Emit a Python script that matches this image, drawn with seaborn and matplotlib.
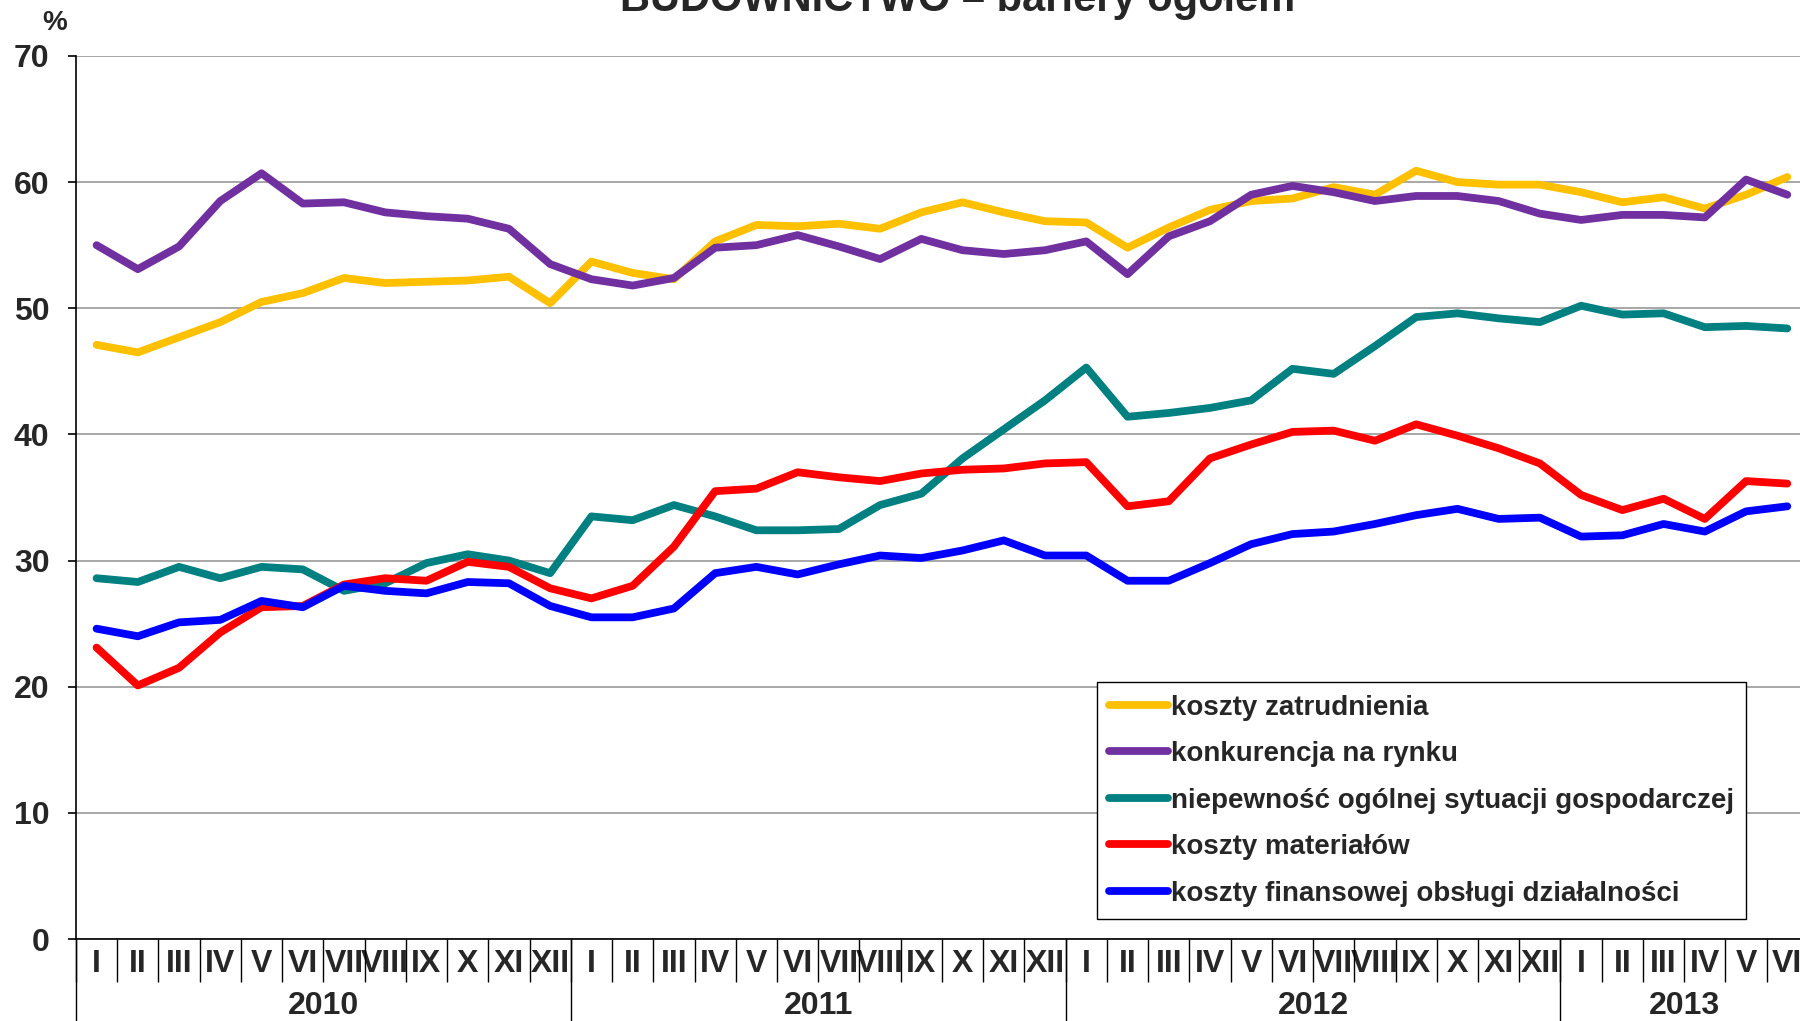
import pandas as pd
import matplotlib.pyplot as plt
import seaborn as sns
from matplotlib import font_manager

# Dane: odsetek wskazań barier (budownictwo), I.2010 - VI.2013
lata = ['2010', '2011', '2012', '2013']
miesiace_w_roku = [12, 12, 12, 6]
miesiace = ['I', 'II', 'III', 'IV', 'V', 'VI', 'VII', 'VIII', 'IX', 'X', 'XI', 'XII']
etykiety_x = [m for n in miesiace_w_roku for m in miesiace[:n]]

koszty_zatrudnienia = [47.1, 46.5, 47.7, 48.9, 50.5, 51.2, 52.4, 52.0, 52.1, 52.2, 52.5, 50.4,
                       53.7, 52.8, 52.3, 55.3, 56.6, 56.5, 56.7, 56.3, 57.6, 58.4, 57.6, 56.9,
                       56.8, 54.8, 56.4, 57.8, 58.5, 58.7, 59.6, 59.0, 60.9, 60.0, 59.8, 59.8,
                       59.2, 58.4, 58.8, 57.9, 59.0, 60.4]
konkurencja = [55.0, 53.1, 54.9, 58.5, 60.7, 58.3, 58.4, 57.6, 57.3, 57.1, 56.3, 53.5,
               52.3, 51.8, 52.4, 54.8, 55.0, 55.8, 54.9, 53.9, 55.5, 54.6, 54.3, 54.6,
               55.3, 52.7, 55.7, 56.9, 59.0, 59.7, 59.2, 58.5, 58.9, 58.9, 58.5, 57.5,
               57.0, 57.4, 57.4, 57.2, 60.2, 59.0]
niepewnosc = [28.6, 28.3, 29.5, 28.6, 29.5, 29.3, 27.6, 28.2, 29.8, 30.5, 30.0, 29.0,
              33.5, 33.2, 34.4, 33.5, 32.4, 32.4, 32.5, 34.4, 35.3, 38.1, 40.4, 42.7,
              45.3, 41.4, 41.7, 42.1, 42.7, 45.2, 44.8, 47.0, 49.3, 49.6, 49.2, 48.9,
              50.2, 49.5, 49.6, 48.5, 48.6, 48.4]
koszty_materialow = [23.1, 20.1, 21.5, 24.3, 26.3, 26.4, 28.1, 28.6, 28.4, 29.9, 29.5, 27.8,
                     27.0, 28.0, 31.1, 35.5, 35.7, 37.0, 36.6, 36.3, 36.9, 37.2, 37.3, 37.7,
                     37.8, 34.3, 34.7, 38.1, 39.2, 40.2, 40.3, 39.5, 40.8, 39.9, 38.9, 37.7,
                     35.2, 34.0, 34.9, 33.3, 36.3, 36.1]
koszty_finansowe = [24.6, 24.0, 25.1, 25.3, 26.8, 26.3, 28.0, 27.6, 27.4, 28.3, 28.2, 26.4,
                    25.5, 25.5, 26.2, 29.0, 29.5, 28.9, 29.7, 30.4, 30.2, 30.8, 31.6, 30.4,
                    30.4, 28.4, 28.4, 29.8, 31.3, 32.1, 32.3, 32.9, 33.6, 34.1, 33.3, 33.4,
                    31.9, 32.0, 32.9, 32.3, 33.9, 34.3]

serie = ['koszty zatrudnienia', 'konkurencja na rynku',
         'niepewność ogólnej sytuacji gospodarczej', 'koszty materiałów',
         'koszty finansowej obsługi działalności']
wartosci = [koszty_zatrudnienia, konkurencja, niepewnosc, koszty_materialow, koszty_finansowe]
kolory = ['#FFC000', '#7030A0', '#008080', '#FF0000', '#0000FF']

# Tabela w formacie długim dla seaborn
df = pd.concat([pd.DataFrame({'okres': range(len(v)), 'wartosc': v, 'bariera': s})
                for s, v in zip(serie, wartosci)], ignore_index=True)

sns.set_style('white')
dostepne = {f.name for f in font_manager.fontManager.ttflist}
czcionka = 'Liberation Sans Narrow' if 'Liberation Sans Narrow' in dostepne else 'Liberation Sans'
plt.rcParams['font.family'] = [czcionka, 'DejaVu Sans']
plt.rcParams['font.weight'] = 'bold'

fig = plt.figure(figsize=(18, 10.21), dpi=100)
ax = fig.add_axes([0.0422, 0.0803, 0.9622, 0.8649])

sns.lineplot(data=df, x='okres', y='wartosc', hue='bariera', hue_order=serie,
             palette=kolory, linewidth=5.6, ax=ax)
for linia in ax.lines:
    linia.set_solid_capstyle('round')
    linia.set_solid_joinstyle('round')

n = len(etykiety_x)
ax.set_xlim(-0.5, n - 0.5)
ax.set_ylim(0, 70)
ax.set_yticks(range(0, 71, 10))
ax.set_xticks(range(n))
ax.set_xticklabels(etykiety_x)
ax.set_xlabel('')
ax.set_ylabel('')
ax.tick_params(axis='x', length=0, pad=7, labelsize=23)
ax.tick_params(axis='y', left=True, length=6, width=1.2, color='black', pad=13, labelsize=23)
ax.grid(axis='y', color='#A0A0A0', linewidth=1.3)
for s in ['top', 'right']:
    ax.spines[s].set_visible(False)
for s in ['left', 'bottom']:
    ax.spines[s].set_color('black')
    ax.spines[s].set_linewidth(1.2)

# separatory miesięcy i lat pod osią
tr = ax.get_xaxis_transform()
ax.vlines([k - 0.5 for k in range(n + 1)], -0.0487, 0, transform=tr, color='black',
          linewidth=1, clip_on=False)
granice = [sum(miesiace_w_roku[:i]) - 0.5 for i in range(len(lata))]
ax.vlines(granice, -0.1, 0, transform=tr, color='black', linewidth=1, clip_on=False)
for i, rok in enumerate(lata):
    srodek = sum(miesiace_w_roku[:i]) - 0.5 + miesiace_w_roku[i] / 2
    ax.text(srodek, -0.0759, rok, transform=tr, ha='center', va='center', fontsize=23)

handles, labels = ax.get_legend_handles_labels()
leg = ax.legend(handles, labels, loc='upper left', bbox_to_anchor=(0.6094, 0.332),
                bbox_transform=fig.transFigure, fontsize=20, frameon=True, fancybox=False,
                edgecolor='black', framealpha=1, handlelength=2.1, handletextpad=0.1,
                labelspacing=0.74, borderpad=0.45, borderaxespad=0)
leg.get_frame().set_linewidth(1)
for h in leg.legend_handles:
    h.set_linewidth(5.6)
    h.set_solid_capstyle('round')

fig.text(0.532, 1 - 11.5 / 1021, 'BUDOWNICTWO – bariery ogółem', ha='center',
         va='baseline', fontsize=30)
fig.text(55 / 1800, 1 - 23 / 1021, '%', ha='center', va='center', fontsize=20)

fig.savefig('out.png', dpi=100)
